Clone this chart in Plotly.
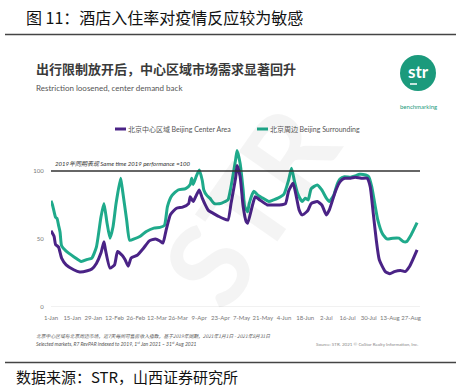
import pandas as pd
import plotly.graph_objects as go

# ---------------- data (day offsets from 2021-01-01, index 2019 = 100) ----------------
center_days = [0, 2, 3, 5, 7, 10, 15, 19, 24, 27, 30, 33, 35, 36, 39, 42, 44, 47, 49, 51, 53, 57,
               61, 65, 69, 72, 74, 76, 79, 83, 87, 91, 92, 94, 96, 98, 100, 102, 104, 107, 111,
               114, 117, 119, 122, 123, 125, 127, 129, 130, 133, 135, 138, 143, 147, 151, 155,
               157, 160, 162, 164, 166, 169, 170, 172, 176, 179, 182, 184, 188, 191, 194, 198,
               201, 205, 209, 211, 213, 215, 217, 221, 224, 227, 231, 234, 237, 242]
center_values = [56, 52, 46, 44, 36, 31, 27.4, 25.7, 26.6, 27.9, 32, 39.6, 48, 42, 28.6, 31, 40.8,
                 38, 34.7, 30, 36, 38, 43, 48.6, 50, 48.5, 47, 56, 68, 72.6, 73.4, 76, 81, 77.5,
                 82, 86, 80, 75, 71, 69, 66.5, 65, 64, 76, 94.6, 104, 96, 74, 62.8, 61.6, 74, 81,
                 78.7, 75, 75, 75, 76, 85, 91, 82, 71.4, 67.7, 70, 71.4, 76, 77.5, 75, 67.7, 71.4,
                 85, 92, 94.6, 94.6, 95.4, 94.6, 94.6, 88.5, 69, 49.4, 34.7, 26, 24.4, 26, 26.9,
                 26, 29.8, 42]

surround_days = [0, 1, 3, 4, 5, 6, 7, 10, 15, 20, 24, 27, 30, 33, 35, 37, 39, 41, 43, 46, 47, 50,
                 52, 55, 59, 63, 68, 72, 75, 77, 80, 84, 89, 92, 93, 94, 96, 98, 100, 101, 103,
                 105, 108, 112, 115, 117, 119, 122, 123, 125, 127, 128, 130, 131, 134, 137, 140,
                 144, 147, 150, 154, 157, 159, 161, 163, 166, 168, 170, 172, 176, 179, 182, 184,
                 187, 189, 191, 194, 198, 201, 204, 208, 210, 212, 214, 216, 219, 222, 226, 230,
                 233, 235, 238, 242]
surround_values = [78, 75, 66, 65, 60, 55, 45, 41, 37, 33.5, 35, 36, 44, 66, 76, 62, 50.6, 59, 76,
                   94.6, 88, 64, 49, 50, 52, 55.5, 58, 58.5, 60, 74, 82, 86, 87, 90, 94.6, 90, 96,
                   100.7, 93, 86, 82, 80, 76, 76, 77.5, 78.7, 88.5, 108, 115, 105.6, 86, 74, 70,
                   76, 85, 82, 80, 77.5, 78.7, 80, 83, 93, 102, 92, 83.6, 77.5, 80, 78.7, 87, 89.7,
                   86, 80, 77.5, 82.4, 89.7, 94, 95.8, 95.4, 96.3, 97.6, 97, 95.8, 88.5, 76, 64,
                   54, 50, 50.6, 50.6, 48, 48, 53, 62]

tick_dates = ["2021-01-01", "2021-01-15", "2021-01-29", "2021-02-12", "2021-02-26", "2021-03-12",
              "2021-03-26", "2021-04-09", "2021-04-23", "2021-05-07", "2021-05-21", "2021-06-04",
              "2021-06-18", "2021-07-02", "2021-07-16", "2021-07-30", "2021-08-13", "2021-08-27"]
tick_labels = ["1-Jan", "15-Jan", "29-Jan", "12-Feb", "26-Feb", "12-Mar", "26-Mar", "9-Apr",
               "23-Apr", "7-May", "21-May", "4-Jun", "18-Jun", "2-Jul", "16-Jul", "30-Jul",
               "13-Aug", "27-Aug"]
y_ticks = [0, 50, 100]
baseline = 100

start = pd.Timestamp("2021-01-01")
center_dates = start + pd.to_timedelta(center_days, unit="D")
surround_dates = start + pd.to_timedelta(surround_days, unit="D")

PURPLE = "#4a2386"
GREEN = "#1faa8b"
GRAY = "#777777"

# plot area in pixels
L, R, T, B = 51, 420, 141, 307
W, H = 456, 387


def px(x):
    return (x - L) / (R - L)


def py(y):
    return (B - y) / (B - T)


fig = go.Figure()
fig.add_trace(go.Scatter(x=surround_dates, y=surround_values, mode="lines",
                         line=dict(color=GREEN, width=3, shape="spline", smoothing=0.5),
                         name="北京周边 Beijing Surrounding", showlegend=False))
fig.add_trace(go.Scatter(x=center_dates, y=center_values, mode="lines",
                         line=dict(color=PURPLE, width=3, shape="spline", smoothing=0.5),
                         name="北京中心区域 Beijing Center Area", showlegend=False))

shapes = [
    # zero line and 2019 baseline
    dict(type="line", xref="paper", yref="y", x0=0, x1=1, y0=0, y1=0,
         line=dict(color="#e3e3e3", width=1), layer="below"),
    dict(type="line", xref="paper", yref="y", x0=0, x1=1, y0=baseline, y1=baseline,
         line=dict(color="#333333", width=1.5)),
    # header / footer rules
    dict(type="line", xref="paper", yref="paper", x0=px(5), x1=px(456), y0=py(34.5), y1=py(34.5),
         line=dict(color="#444444", width=1.5)),
    dict(type="line", xref="paper", yref="paper", x0=px(5), x1=px(456), y0=py(362.5), y1=py(362.5),
         line=dict(color="#444444", width=1.5)),
    # logo
    dict(type="circle", xref="paper", yref="paper", x0=px(400), x1=px(436), y0=py(91), y1=py(55),
         fillcolor="#1b9a7c", line=dict(width=0)),
    dict(type="line", xref="paper", yref="paper", x0=px(410), x1=px(417), y0=py(84), y1=py(84),
         line=dict(color="white", width=1.5)),
    # legend samples
    dict(type="line", xref="paper", yref="paper", x0=px(115), x1=px(126), y0=py(129), y1=py(129),
         line=dict(color=PURPLE, width=3)),
    dict(type="line", xref="paper", yref="paper", x0=px(257), x1=px(268), y0=py(129), y1=py(129),
         line=dict(color=GREEN, width=3)),
]

EN = "Lato, 'Noto Sans CJK SC', sans-serif"
CJK = "'Noto Sans CJK SC', sans-serif"


def ann(text, x, y, size, color="#333333", xanchor="left", family=CJK, **kw):
    return dict(text=text, x=px(x), y=py(y), xref="paper", yref="paper", showarrow=False,
                xanchor=xanchor, yanchor="middle", font=dict(size=size, color=color, family=family),
                **kw)


annotations = [
    # watermark
    dict(text="<b>STR</b>", x=px(248), y=py(205), xref="paper", yref="paper", showarrow=False,
         textangle=-55, font=dict(size=115, color="rgba(0,0,0,0.045)", family="Lato, sans-serif")),
    ann("图 11：酒店入住率对疫情反应较为敏感", 24, 17, 16, color="#111111"),
    ann("<b>出行限制放开后，中心区域市场需求显著回升</b>", 34, 69, 13, color="#3a3a3a"),
    ann("Restriction loosened, center demand back", 34, 88, 8, color="#555555", family=EN),
    ann("<b>str</b>", 418, 71, 17, color="white", xanchor="center", family="Lato, sans-serif"),
    ann("benchmarking", 418, 106, 6, color="#1b9a7c", xanchor="center", family=EN),
    ann("北京中心区域 <span style='font-family:Lato'>Beijing Center Area</span>", 126, 129, 7,
        color="#555555"),
    ann("北京周边 <span style='font-family:Lato'>Beijing Surrounding</span>", 268, 129, 7,
        color="#555555"),
    ann("<i>2019年同期表现 Same time 2019 performance =100</i>", 53, 163, 6, color="#333333",
        family=EN),
    ann("<i>北京中心区域与北京周边市场，近7天每间可售房收入指数，基于2019年同期，2021年1月1日 - 2021年8月31日</i>",
        34, 335, 4.8, color="#555555"),
    ann("<i>Selected markets, R7 RevPAR indexed to 2019, 1<sup>st</sup> Jan 2021 – 31<sup>st</sup> Aug 2021</i>",
        34, 343.5, 5, color="#555555", family=EN),
    ann("Source: STR. 2021 © CoStar Realty Information, Inc.", 420, 344, 4.5, color="#888888",
        xanchor="right", family=EN),
    ann("数据来源：STR，山西证券研究所", 14, 376, 15, color="#111111"),
]

fig.update_layout(
    width=W, height=H,
    margin=dict(l=L, r=W - R, t=T, b=H - B, pad=0),
    paper_bgcolor="white", plot_bgcolor="white",
    shapes=shapes, annotations=annotations,
    xaxis=dict(type="date", range=["2021-01-01", "2021-09-01 22:00"], tickvals=tick_dates,
               ticktext=tick_labels, tickangle=0, showgrid=False, zeroline=False, showline=False,
               ticks="outside", ticklen=5, tickcolor="white",
               tickfont=dict(size=6, color=GRAY, family=EN)),
    yaxis=dict(range=[0, 122], tickvals=y_ticks, showgrid=False, zeroline=False, showline=False,
               ticks="outside", ticklen=5, tickcolor="white",
               tickfont=dict(size=6, color=GRAY, family=EN)),
)

fig.write_html("out.html", config={"displayModeBar": False},
               post_script="document.body.style.margin='0px';")
